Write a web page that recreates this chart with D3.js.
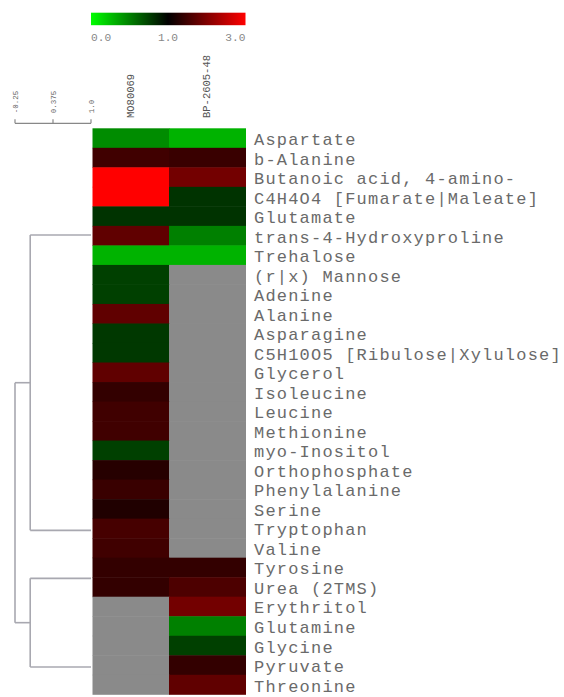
<!DOCTYPE html>
<html><head><meta charset="utf-8">
<script src="https://cdn.jsdelivr.net/npm/d3@7"></script>
<style>html,body{margin:0;padding:0;background:#fff;}svg{display:block;}</style>
</head><body>
<svg id="chart" width="564" height="697"></svg>
<script>
const rows = ["Aspartate","b-Alanine","Butanoic acid, 4-amino-","C4H4O4 [Fumarate|Maleate]","Glutamate","trans-4-Hydroxyproline","Trehalose","(r|x) Mannose","Adenine","Alanine","Asparagine","C5H10O5 [Ribulose|Xylulose]","Glycerol","Isoleucine","Leucine","Methionine","myo-Inositol","Orthophosphate","Phenylalanine","Serine","Tryptophan","Valine","Tyrosine","Urea (2TMS)","Erythritol","Glutamine","Glycine","Pyruvate","Threonine"];
const columns = ["MO80069","BP-2605-48"];
const valuesMO80069 = [0.45,1.5,3.0,3.0,0.8,1.75,0.3,0.75,0.75,1.75,0.78,0.78,1.75,1.4,1.5,1.5,0.75,1.3,1.45,1.25,1.55,1.5,1.4,1.4,null,null,null,null,null];
const valuesBP260548 = [0.3,1.45,1.9,0.8,0.8,0.5,0.3,null,null,null,null,null,null,null,null,null,null,null,null,null,null,null,1.4,1.6,1.9,0.5,0.75,1.4,1.75];
const colorStops = [0, 1, 3];
const colorTicks = ["0.0","1.0","3.0"];
const distTicks = [-0.25, 0.375, 1.0];
const distTickLabels = ["-0.25","0.375","1.0"];
// dendrogram: internal join distances, leaf positions in row units
const tree = {d:-0.25, children:[
  {d:0.0, children:[{d:1.0,pos:5.47},{d:1.0,pos:20.6}]},
  {d:0.0, children:[{d:1.0,pos:23.06},{d:1.0,pos:27.6}]}
]};

const svg = d3.select("#chart");
const top0 = 128.3, bottom0 = 694.3, left0 = 92.5, right0 = 245.5;
const y = d3.scaleBand().domain(rows).range([top0, bottom0]);
const x = d3.scaleBand().domain(columns).range([left0, right0]);
const color = d3.scaleLinear().domain(colorStops).range(["#00ff00","#000000","#ff0000"]);
const mono = "'Liberation Mono','DejaVu Sans Mono',monospace";

const cells = [];
rows.forEach((r,i)=>{
  cells.push({r, c:columns[0], v:valuesMO80069[i]});
  cells.push({r, c:columns[1], v:valuesBP260548[i]});
});
svg.append("g").selectAll("rect").data(cells).join("rect")
  .attr("x", d=>x(d.c)).attr("y", d=>y(d.r))
  .attr("width", x.bandwidth()+0.5).attr("height", y.bandwidth()+0.5)
  .attr("fill", d=> d.v==null ? "#8a8a8a" : color(d.v));

// row labels
svg.append("g").selectAll("text").data(rows).join("text")
  .attr("x", 254).attr("y", d=>y(d)+y.bandwidth()/2+2.5)
  .attr("dominant-baseline","central")
  .attr("font-family", mono).attr("font-size", 17).attr("letter-spacing", 1.2)
  .attr("fill","#6a6a6a").text(d=>d);

// column labels
svg.append("g").selectAll("text").data(columns).join("text")
  .attr("transform", d=>`translate(${x(d)+x.bandwidth()/2+3},118) rotate(-90)`)
  .attr("font-family", mono).attr("font-size", 10.5)
  .attr("fill","#555").text(d=>d);

// color bar
const barX = d3.scaleLinear().domain(colorStops).range([91,168,245.5]);
const defs = svg.append("defs");
const grad = defs.append("linearGradient").attr("id","cbar").attr("x1","0%").attr("x2","100%");
d3.range(0,3.0001,0.25).forEach(v=>{
  grad.append("stop").attr("offset", ((barX(v)-91)/(245.5-91)*100)+"%").attr("stop-color", color(v));
});
svg.append("rect").attr("x",91).attr("y",12.7).attr("width",245.5-91).attr("height",12.5).attr("fill","url(#cbar)");
svg.append("g").selectAll("text").data(colorStops).join("text")
  .attr("x", d=>barX(d))
  .attr("text-anchor", (d,i)=> i===0 ? "start" : i===2 ? "end" : "middle")
  .attr("y", 41).attr("font-family", mono).attr("font-size", 11.2)
  .attr("fill","#888").text((d,i)=>colorTicks[i]);

// dendrogram
const dx = d3.scaleLinear().domain([-0.25, 1.0]).range([15, 91]);
const rowPos = d3.scaleLinear().domain([0, rows.length]).range([top0, bottom0]);
const root = d3.hierarchy(tree);
root.eachAfter(n=>{ if(n.children) n.data.pos = d3.mean(n.children, c=>c.data.pos); });
const segs = [];
root.each(n=>{
  if(!n.children) return;
  const ys = n.children.map(c=>c.data.pos);
  segs.push([dx(n.data.d), rowPos(d3.min(ys)), dx(n.data.d), rowPos(d3.max(ys))]);
  n.children.forEach(c=>{
    segs.push([dx(n.data.d), rowPos(c.data.pos), dx(c.data.d), rowPos(c.data.pos)]);
  });
});
svg.append("g").selectAll("line").data(segs).join("line")
  .attr("x1",d=>d[0]).attr("y1",d=>d[1]).attr("x2",d=>d[2]).attr("y2",d=>d[3])
  .attr("stroke","#a8a8b0").attr("stroke-width",1.6);

// distance scale
const axisG = svg.append("g").attr("transform","translate(0,123.3)");
axisG.append("line").attr("x1",dx(-0.25)).attr("x2",dx(1.0)).attr("stroke","#888").attr("stroke-width",1.2);
axisG.selectAll(".tk").data(distTicks).join("line").attr("class","tk")
  .attr("x1",d=>dx(d)).attr("x2",d=>dx(d)).attr("y1",0).attr("y2",-4)
  .attr("stroke","#888").attr("stroke-width",1.2);
axisG.selectAll(".tl").data(distTicks).join("text").attr("class","tl")
  .attr("transform",d=>`translate(${dx(d)+2.5},-10) rotate(-90)`)
  .attr("font-family", mono).attr("font-size", 7.5).attr("fill","#666")
  .text((d,i)=>distTickLabels[i]);
</script>
</body></html>
